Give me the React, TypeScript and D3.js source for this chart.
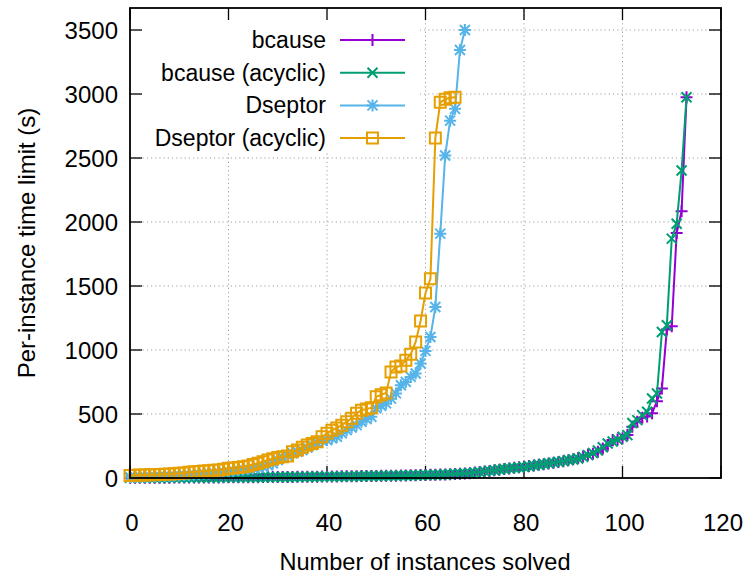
import React from "react";
import * as d3 from "d3";

// cactus plot: sorted per-instance runtimes
const bcause = [
  1, 1, 1, 1, 2, 2, 2, 2, 2, 3, 3, 3, 3, 3, 3, 4, 4, 4, 4, 5, 5, 5, 5, 5, 6, 6, 6, 7, 7, 7,
  7, 8, 8, 8, 9, 9, 10, 10, 10, 11, 11, 12, 12, 13, 13, 14, 14, 15, 15, 16, 16, 17, 17, 18, 18, 19,
  20, 21, 22, 23, 24, 25, 26, 27, 28, 30, 32, 34, 36, 38, 43, 47, 51, 55, 61, 65, 71, 75, 80, 84,
  88, 93, 97, 103, 108, 113, 119, 125, 131, 138, 146, 156, 168, 182, 190, 205, 230, 255, 296, 300,
  310, 335, 400, 440, 470, 480, 505, 600, 700, 1160, 1186, 1914, 2085, 2975,
];
const bcauseAcyclic = [
  1, 1, 1, 2, 2, 2, 2, 2, 3, 3, 3, 3, 3, 3, 4, 4, 4, 4, 4, 5, 5, 5, 5, 5, 6, 6, 6, 6, 7, 7,
  7, 8, 8, 8, 9, 9, 9, 10, 10, 11, 11, 11, 12, 12, 13, 13, 14, 14, 15, 15, 16, 16, 17, 17, 18, 19,
  19, 20, 21, 22, 23, 24, 25, 26, 27, 29, 31, 33, 35, 37, 42, 46, 52, 56, 60, 66, 70, 76, 79, 82,
  85, 92, 98, 104, 110, 115, 120, 126, 132, 140, 145, 152, 165, 179, 195, 215, 240, 270, 285, 300,
  322, 335, 430, 452, 491, 517, 621, 660, 1141, 1193, 1870, 1987, 2402, 2975,
];
const dseptor = [
  8, 9, 10, 11, 12, 13, 14, 15, 16, 18, 20, 22, 24, 27, 30, 33, 36, 40, 44, 48,
  52, 57, 62, 66, 70, 76, 82, 88, 100, 115, 140, 160, 175, 193, 205, 218, 237, 257, 275, 290,
  296, 310, 322, 350, 374, 395, 413, 439, 460, 478, 544, 565, 583, 620, 661, 725, 751, 790, 817, 895,
  993, 1102, 1336, 1909, 2520, 2792, 2884, 3344, 3500,
];
const dseptorAcyclic = [
  20, 22, 23, 24, 25, 26, 27, 29, 31, 33, 37, 40, 44, 49, 51, 54, 57, 60, 62, 68,
  76, 79, 83, 88, 94, 105, 115, 127, 140, 150, 161, 166, 172, 205, 218, 240, 257, 270, 283, 322,
  349, 374, 390, 413, 439, 466, 505, 530, 540, 548, 634, 650, 665, 829, 868, 876, 920, 967, 1063, 1227,
  1445, 1557, 2657, 2935, 2960, 2970, 2975,
];

const seriesNames = ["bcause", "bcause (acyclic)", "Dseptor", "Dseptor (acyclic)"];
const seriesValues = [bcause, bcauseAcyclic, dseptor, dseptorAcyclic];
const colors = ["#9400D3", "#009E73", "#56B4E9", "#E69F00"];
const markers = ["plus", "cross", "star", "square"];

const xTicks = [0, 20, 40, 60, 80, 100, 120];
const yTicks = [0, 500, 1000, 1500, 2000, 2500, 3000, 3500];

const W = 747;
const H = 578;
const left = 130;
const right = 721;
const top = 8;
const bottom = 478;
const font = "'Liberation Sans', Arial, Helvetica, sans-serif";
const fs = 24;

function markerPath(kind: string, cx: number, cy: number) {
  const p = d3.path();
  const s = 6;
  const d = 5;
  if (kind === "plus" || kind === "star") {
    p.moveTo(cx - s, cy);
    p.lineTo(cx + s, cy);
    p.moveTo(cx, cy - s);
    p.lineTo(cx, cy + s);
  }
  if (kind === "cross" || kind === "star") {
    p.moveTo(cx - d, cy - d);
    p.lineTo(cx + d, cy + d);
    p.moveTo(cx - d, cy + d);
    p.lineTo(cx + d, cy - d);
  }
  if (kind === "square") {
    p.rect(cx - 5.5, cy - 5.5, 11, 11);
  }
  return p.toString();
}

export default function App() {
  const x = d3.scaleLinear().domain([0, 120]).range([left, right]);
  const y = d3.scaleLinear().domain([0, 3672]).range([bottom, top]);
  const line = d3
    .line<number>()
    .x((_, i) => x(i))
    .y((d) => y(d));

  const legendY = (i: number) => 40 + i * 32.7;

  return (
    <svg
      width={W}
      height={H}
      style={{ position: "absolute", left: 0, top: 0, background: "#fff" }}
      fontFamily={font}
    >
      <rect x={0} y={0} width={W} height={H} fill="#fff" />
      {/* grid */}
      <g stroke="#a0a0a0" strokeWidth={1} strokeDasharray="1.2,3">
        {xTicks.slice(1, -1).map((t) => (
          <line key={"gx" + t} x1={x(t)} x2={x(t)} y1={bottom} y2={top} />
        ))}
        {yTicks.slice(1).map((t) => (
          <line key={"gy" + t} x1={left} x2={right} y1={y(t)} y2={y(t)} />
        ))}
      </g>
      {/* legend background (opaque key) */}
      <rect x={132} y={9} width={288} height={144} fill="#fff" />
      {/* ticks */}
      <g stroke="#000" strokeWidth={1.3}>
        {xTicks.map((t) => (
          <g key={"tx" + t}>
            <line x1={x(t)} x2={x(t)} y1={bottom} y2={bottom - 12} />
            <line x1={x(t)} x2={x(t)} y1={top} y2={top + 12} />
          </g>
        ))}
        {yTicks.map((t) => (
          <g key={"ty" + t}>
            <line x1={left} x2={left + 12} y1={y(t)} y2={y(t)} />
            <line x1={right} x2={right - 12} y1={y(t)} y2={y(t)} />
          </g>
        ))}
      </g>
      {/* series */}
      {seriesValues.map((vals, si) => (
        <g key={"s" + si} stroke={colors[si]} strokeWidth={2} fill="none">
          <path d={line(vals) || ""} />
          {vals.map((v, i) => (
            <path key={i} d={markerPath(markers[si], x(i), y(v))} strokeWidth={2} />
          ))}
        </g>
      ))}
      {/* border */}
      <rect
        x={left}
        y={top}
        width={right - left}
        height={bottom - top}
        fill="none"
        stroke="#000"
        strokeWidth={1.8}
      />
      {/* tick labels */}
      <g fontSize={fs} fill="#000">
        {xTicks.map((t) => (
          <text key={"lx" + t} x={x(t) + 2} y={522} textAnchor="middle" dominantBaseline="central">
            {t}
          </text>
        ))}
        {yTicks.map((t) => (
          <text key={"ly" + t} x={118} y={y(t)} textAnchor="end" dominantBaseline="central">
            {t}
          </text>
        ))}
      </g>
      {/* axis titles */}
      <text x={425} y={562} fontSize={23.6} textAnchor="middle" dominantBaseline="central">
        Number of instances solved
      </text>
      <text
        transform={`translate(26,243) rotate(-90)`}
        fontSize={fs}
        textAnchor="middle"
        dominantBaseline="central"
      >
        Per-instance time limit (s)
      </text>
      {/* legend */}
      {seriesNames.map((name, i) => (
        <g key={"lg" + i}>
          <text
            x={326}
            y={legendY(i)}
            fontSize={23}
            textAnchor="end"
            dominantBaseline="central"
          >
            {name}
          </text>
          <line
            x1={340}
            x2={405}
            y1={legendY(i)}
            y2={legendY(i)}
            stroke={colors[i]}
            strokeWidth={2}
          />
          <path
            d={markerPath(markers[i], 372.5, legendY(i))}
            stroke={colors[i]}
            strokeWidth={2}
            fill="none"
          />
        </g>
      ))}
    </svg>
  );
}
